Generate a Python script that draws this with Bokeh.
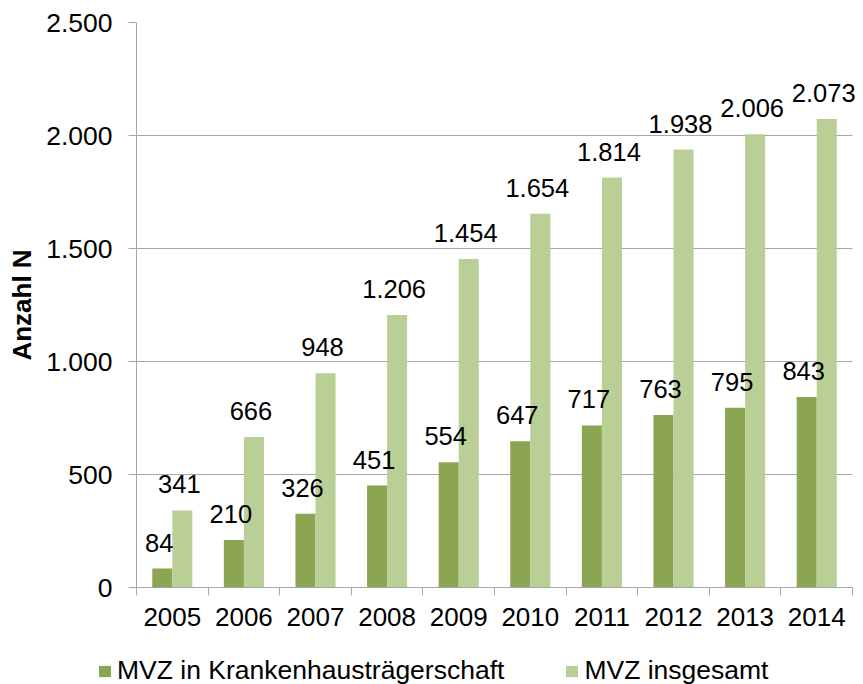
from bokeh.plotting import figure
from bokeh.layouts import column
from bokeh.models import (ColumnDataSource, FixedTicker, LabelSet, Legend, LegendItem,
                          Range1d)
from bokeh.core.properties import value
from bokeh.transform import dodge
from bokeh.embed import file_html
from bokeh.resources import INLINE

years = ["2005", "2006", "2007", "2008", "2009", "2010", "2011", "2012", "2013", "2014"]
mvz_krankenhaus = [84, 210, 326, 451, 554, 647, 717, 763, 795, 843]
mvz_insgesamt = [341, 666, 948, 1206, 1454, 1654, 1814, 1938, 2006, 2073]
y_ticks = [0, 500, 1000, 1500, 2000, 2500]

series_names = ["MVZ in Krankenhausträgerschaft", "MVZ insgesamt"]
DARK = "#8BA552"
LIGHT = "#B9CF96"
GRID = "#A6A6A6"
FONT = "Liberation Sans"


def de_fmt(v):
    return f"{v:,}".replace(",", ".")


idx = list(range(len(years)))
src = ColumnDataSource(dict(
    x=idx,
    dark=mvz_krankenhaus,
    light=mvz_insgesamt,
    dark_txt=[de_fmt(v) for v in mvz_krankenhaus],
    light_txt=[de_fmt(v) for v in mvz_insgesamt],
))

# a little spare room right of the last category so its label is not clipped
x_lo, x_hi = -0.5, len(years) - 0.5
p = figure(width=863, height=640, output_backend="svg", toolbar_location=None,
           x_range=Range1d(x_lo, x_hi + 0.1536), y_range=Range1d(0, 2500),
           min_border_left=136, min_border_right=0, min_border_top=22,
           min_border_bottom=53)
p.outline_line_color = None
p.background_fill_color = "white"
p.border_fill_color = "white"

bw = 0.28
r1 = p.vbar(x=dodge("x", -0.14, range=p.x_range), top="dark", width=bw, source=src,
            fill_color=DARK, line_color=None)
r2 = p.vbar(x=dodge("x", 0.14, range=p.x_range), top="light", width=bw, source=src,
            fill_color=LIGHT, line_color=None)

for col, txt, off in (("dark", "dark_txt", -0.14), ("light", "light_txt", 0.14)):
    lbl = LabelSet(x=dodge("x", off, range=p.x_range), y=col, text=txt, source=src,
                   text_align="center", text_baseline="alphabetic", y_offset=17,
                   x_offset=-3, text_font=value(FONT), text_font_size="25.5px",
                   text_color="#000000")
    p.add_layout(lbl)

# y axis
p.yaxis.ticker = FixedTicker(ticks=y_ticks)
p.yaxis.major_label_overrides = {t: de_fmt(t) for t in y_ticks}
p.yaxis.major_tick_out = 8
p.yaxis.major_tick_in = 0
p.yaxis.minor_tick_line_color = None
p.yaxis.axis_line_color = GRID
p.yaxis.major_tick_line_color = GRID
p.yaxis.major_label_text_font = FONT
p.yaxis.major_label_text_font_size = "26.5px"
p.yaxis.major_label_text_color = "#000000"
p.yaxis.major_label_standoff = 16
p.yaxis.axis_label = "Anzahl N"
p.yaxis.axis_label_text_font = FONT
p.yaxis.axis_label_text_font_size = "26px"
p.yaxis.axis_label_text_font_style = "bold"
p.yaxis.axis_label_text_color = "#000000"
p.yaxis.axis_label_standoff = 6

# x axis: labels at centers, ticks at category boundaries
boundaries = [i - 0.5 for i in range(len(years) + 1)]
p.xaxis.ticker = FixedTicker(ticks=idx, minor_ticks=boundaries)
p.xaxis.major_label_overrides = {i: y for i, y in zip(idx, years)}
p.xaxis.bounds = (x_lo, x_hi)
p.xaxis.major_tick_out = 0
p.xaxis.major_tick_in = 0
p.xaxis.major_tick_line_color = None
p.xaxis.minor_tick_out = 8
p.xaxis.minor_tick_in = 0
p.xaxis.minor_tick_line_color = GRID
p.xaxis.axis_line_color = GRID
p.xaxis.major_label_text_font = FONT
p.xaxis.major_label_text_font_size = "26px"
p.xaxis.major_label_text_color = "#000000"
p.xaxis.major_label_standoff = 12

p.xgrid.grid_line_color = None
p.ygrid.grid_line_color = GRID
p.ygrid.ticker = FixedTicker(ticks=y_ticks)
if "cross_bounds" in p.ygrid.properties():
    p.ygrid.cross_bounds = (x_lo, x_hi)

# legend strip below the chart
lg = figure(width=863, height=44, output_backend="svg", toolbar_location=None,
            x_range=Range1d(0, 1), y_range=Range1d(0, 1),
            min_border_left=0, min_border_right=0, min_border_top=0,
            min_border_bottom=0)
if "frame_align" in lg.properties():
    lg.frame_align = False
    p.frame_align = False
lg.axis.visible = False
lg.grid.visible = False
lg.outline_line_color = None
g1 = lg.vbar(x="x", top="dark", width=bw, source=src, fill_color=DARK, line_color=None)
g2 = lg.vbar(x="x", top="light", width=bw, source=src, fill_color=LIGHT, line_color=None)
g1.visible = False
g2.visible = False

legend = Legend(items=[LegendItem(label=series_names[0], renderers=[g1]),
                       LegendItem(label=series_names[1], renderers=[g2])],
                orientation="horizontal", location=(97, -2), click_policy="none",
                label_text_font=FONT, label_text_font_size="26.5px",
                label_text_color="#000000", glyph_width=15, glyph_height=14,
                spacing=60, label_standoff=5, padding=0, margin=0,
                border_line_color=None, background_fill_alpha=0)
lg.add_layout(legend, "center")

layout = column(p, lg, spacing=0)
open("out.html", "w").write(file_html(layout, INLINE))
